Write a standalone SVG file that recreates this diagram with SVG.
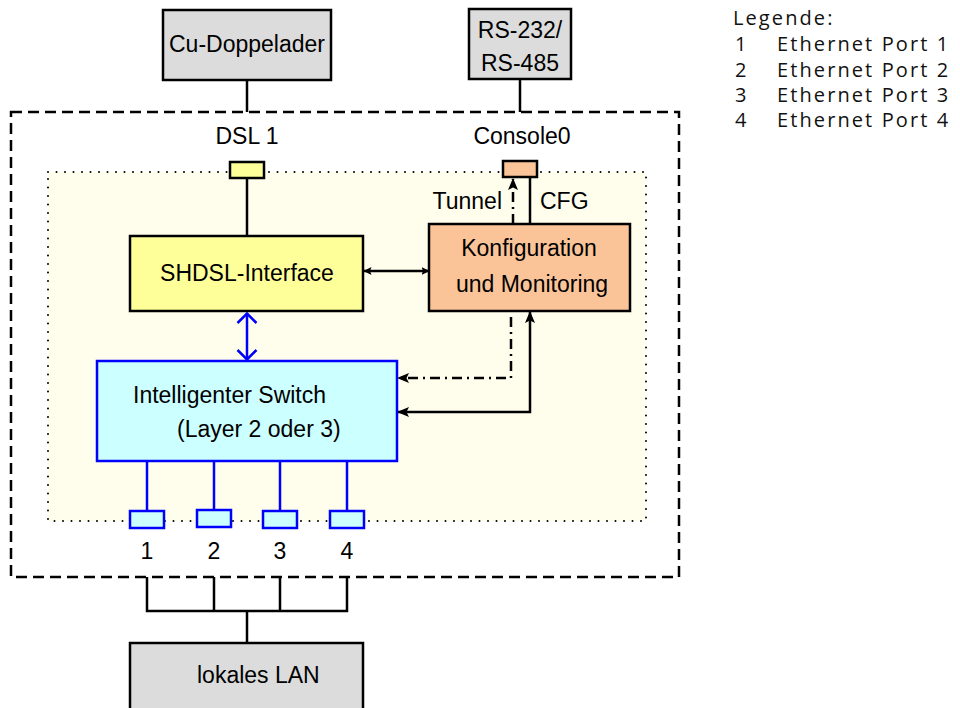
<svg xmlns="http://www.w3.org/2000/svg" width="960" height="708" viewBox="0 0 960 708">
  <style>
    .t { font-family: "Liberation Sans", Arial, sans-serif; font-size: 23px; fill: #000; }
    .mid { text-anchor: middle; }
    .leg { font-family: "Open Sans", "Noto Sans", sans-serif; font-size: 20px; fill: #111; letter-spacing: 2.1px; }
    .box { stroke: #000; stroke-width: 2.5; }
    .grey { fill: #dcdcdc; }
    .blk { stroke: #000; stroke-width: 2.5; fill: none; }
    .blu { stroke: #0000ff; stroke-width: 2.5; fill: none; }
    .dashdot { stroke-dasharray: 10 5 2 5; }
  </style>
  <defs>
    <marker id="arr" viewBox="0 0 12 10" refX="11" refY="5" markerWidth="12" markerHeight="10" markerUnits="userSpaceOnUse" orient="auto-start-reverse">
      <path d="M0,0 L12,5 L0,10 L2.5,5 Z" fill="#000"/>
    </marker>
    <marker id="arrs" viewBox="0 0 8 8" refX="7.5" refY="4" markerWidth="8" markerHeight="8" markerUnits="userSpaceOnUse" orient="auto-start-reverse">
      <path d="M0,0 L8,4 L0,8 L1.5,4 Z" fill="#000"/>
    </marker>
  </defs>

  <!-- device housing and inner module area -->
  <rect id="housing" x="11" y="112" width="668" height="465" fill="#fff" stroke="#000" stroke-width="2.5" stroke-dasharray="11 6"/>
  <rect id="module" x="48" y="172" width="598" height="349" fill="#fffeec" stroke="#000" stroke-width="2" stroke-dasharray="0 8.5" stroke-linecap="round"/>

  <!-- connectors -->
  <g id="connectors">
    <line class="blk" x1="247" y1="80" x2="247" y2="112"/>
    <line class="blk" x1="520" y1="79" x2="520" y2="112"/>
    <line class="blk" x1="247" y1="178" x2="247" y2="236"/>
    <!-- SHDSL <-> configuration -->
    <line class="blk" x1="364" y1="271" x2="429" y2="271" marker-start="url(#arrs)" marker-end="url(#arrs)"/>
    <!-- SHDSL <-> switch (blue, open heads) -->
    <line class="blu" x1="247" y1="313" x2="247" y2="360"/>
    <polyline class="blu" points="237.5,323 247,313.5 256.5,323"/>
    <polyline class="blu" points="237.5,350 247,359.5 256.5,350"/>
    <!-- console: tunnel and CFG -->
    <line class="blk dashdot" x1="513" y1="224" x2="513" y2="179" marker-end="url(#arr)"/>
    <line class="blk" x1="530" y1="177" x2="530" y2="224"/>
    <!-- configuration -> switch -->
    <polyline class="blk dashdot" points="511,317 511,378 398,378" marker-end="url(#arr)"/>
    <polyline class="blk" points="398,412 530,412 530,312" marker-start="url(#arr)" marker-end="url(#arr)"/>
    <!-- switch to ethernet ports -->
    <line class="blu" x1="147" y1="461" x2="147" y2="511"/>
    <line class="blu" x1="214" y1="461" x2="214" y2="511"/>
    <line class="blu" x1="280" y1="461" x2="280" y2="511"/>
    <line class="blu" x1="347" y1="461" x2="347" y2="511"/>
    <!-- ports to local LAN -->
    <polyline class="blk" points="147,577 147,611 347,611 347,577"/>
    <line class="blk" x1="214" y1="577" x2="214" y2="611"/>
    <line class="blk" x1="280" y1="577" x2="280" y2="611"/>
    <line class="blk" x1="247" y1="611" x2="247" y2="643"/>
  </g>

  <g id="cu-doppelader">
    <rect class="box grey" x="163" y="10" width="168" height="70"/>
    <text class="t mid" x="247" y="52">Cu-Doppelader</text>
  </g>

  <g id="rs232">
    <rect class="box grey" x="469" y="9" width="102" height="70"/>
    <text class="t mid" x="520" y="38">RS-232/</text>
    <text class="t mid" x="520" y="71">RS-485</text>
  </g>

  <g id="dsl-port">
    <rect class="box" x="230" y="162" width="34" height="16" fill="#ffff99" stroke-width="2"/>
    <text class="t mid" x="247" y="144">DSL 1</text>
  </g>

  <g id="console-port">
    <rect class="box" x="503" y="161" width="34" height="16" fill="#fbc498" stroke-width="2"/>
    <text class="t mid" x="522" y="144">Console0</text>
    <text class="t" x="502" y="209" text-anchor="end">Tunnel</text>
    <text class="t" x="540" y="209">CFG</text>
  </g>

  <g id="shdsl">
    <rect class="box" x="130" y="236" width="233" height="75" fill="#ffff99"/>
    <text class="t mid" x="247" y="281">SHDSL-Interface</text>
  </g>

  <g id="konfiguration">
    <rect class="box" x="429" y="224" width="201" height="87" fill="#fbc498"/>
    <text class="t mid" x="529" y="256">Konfiguration</text>
    <text class="t mid" x="532" y="292">und Monitoring</text>
  </g>

  <g id="switch">
    <rect x="97" y="361" width="300" height="100" fill="#ccffff" stroke="#0000ff" stroke-width="2.5"/>
    <text class="t" x="133" y="403">Intelligenter Switch</text>
    <text class="t" x="177" y="437">(Layer 2 oder 3)</text>
  </g>

  <g id="ports">
    <rect x="130" y="511" width="34" height="17" fill="#ccffff" stroke="#0000ff" stroke-width="2.5"/>
    <rect x="197" y="510" width="34" height="17" fill="#ccffff" stroke="#0000ff" stroke-width="2.5"/>
    <rect x="263" y="511" width="34" height="17" fill="#ccffff" stroke="#0000ff" stroke-width="2.5"/>
    <rect x="330" y="511" width="34" height="17" fill="#ccffff" stroke="#0000ff" stroke-width="2.5"/>
    <text class="t mid" x="147" y="559">1</text>
    <text class="t mid" x="214" y="559">2</text>
    <text class="t mid" x="280" y="559">3</text>
    <text class="t mid" x="347" y="559">4</text>
  </g>

  <g id="lan">
    <rect class="box grey" x="130" y="643" width="233" height="80"/>
    <text class="t" x="197" y="683">lokales LAN</text>
  </g>

  <g id="legend">
    <text class="leg" x="733" y="25">Legende:</text>
    <text class="leg" x="735" y="51">1</text>
    <text class="leg" x="777" y="51">Ethernet Port 1</text>
    <text class="leg" x="735" y="77">2</text>
    <text class="leg" x="777" y="77">Ethernet Port 2</text>
    <text class="leg" x="735" y="102">3</text>
    <text class="leg" x="777" y="102">Ethernet Port 3</text>
    <text class="leg" x="735" y="127">4</text>
    <text class="leg" x="777" y="127">Ethernet Port 4</text>
  </g>
</svg>
